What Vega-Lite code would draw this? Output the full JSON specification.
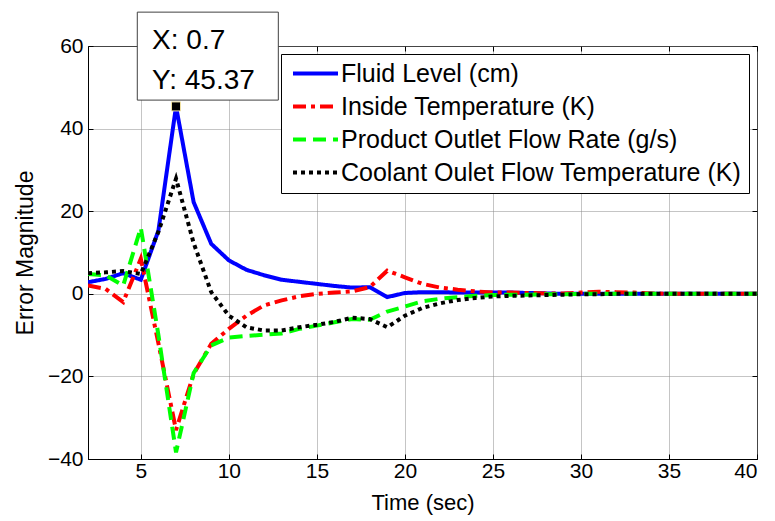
{
  "$schema": "https://vega.github.io/schema/vega-lite/v6.json",
  "width": 669,
  "height": 413,
  "autosize": {"type": "none"},
  "padding": {"left": 88, "top": 46, "right": 18, "bottom": 62},
  "background": "white",
  "config": {
    "view": {"stroke": "black", "strokeWidth": 1},
    "font": "Liberation Sans",
    "axis": {
      "labelFont": "Liberation Sans",
      "labelFontSize": 21,
      "labelColor": "black",
      "titleFont": "Liberation Sans",
      "titleFontSize": 22,
      "titleFontWeight": "normal",
      "titleColor": "black",
      "domainColor": "black",
      "tickColor": "black",
      "tickSize": -5,
      "gridColor": "#8a8a8a",
      "gridDash": [1, 1],
      "gridWidth": 1
    },
    "legend": {
      "strokeColor": "black", "fillColor": "white", "padding": 7,
      "labelFont": "Liberation Sans", "labelFontSize": 25, "labelColor": "black",
      "labelOffset": 13, "labelLimit": 0, "rowPadding": 7,
      "symbolType": "M-2.5,0H2.5", "symbolSize": 324, "symbolStrokeWidth": 4, "symbolOffset": 15
    }
  },
  "datasets": {
    "series": [
      {"t": 2, "s": "Fluid Level (cm)", "v": 2.8},
      {"t": 3, "s": "Fluid Level (cm)", "v": 3.6},
      {"t": 4, "s": "Fluid Level (cm)", "v": 5.0},
      {"t": 5, "s": "Fluid Level (cm)", "v": 3.4},
      {"t": 6, "s": "Fluid Level (cm)", "v": 15.3},
      {"t": 7, "s": "Fluid Level (cm)", "v": 45.37},
      {"t": 8, "s": "Fluid Level (cm)", "v": 22.2},
      {"t": 9, "s": "Fluid Level (cm)", "v": 12.1},
      {"t": 10, "s": "Fluid Level (cm)", "v": 8.1},
      {"t": 11, "s": "Fluid Level (cm)", "v": 5.8},
      {"t": 12, "s": "Fluid Level (cm)", "v": 4.5},
      {"t": 13, "s": "Fluid Level (cm)", "v": 3.4},
      {"t": 14, "s": "Fluid Level (cm)", "v": 2.9},
      {"t": 15, "s": "Fluid Level (cm)", "v": 2.4},
      {"t": 16, "s": "Fluid Level (cm)", "v": 1.9},
      {"t": 17, "s": "Fluid Level (cm)", "v": 1.5},
      {"t": 18, "s": "Fluid Level (cm)", "v": 1.6},
      {"t": 19, "s": "Fluid Level (cm)", "v": -0.8},
      {"t": 20, "s": "Fluid Level (cm)", "v": 0.2},
      {"t": 21, "s": "Fluid Level (cm)", "v": 0.4},
      {"t": 22, "s": "Fluid Level (cm)", "v": 0.4},
      {"t": 23, "s": "Fluid Level (cm)", "v": 0.3},
      {"t": 24, "s": "Fluid Level (cm)", "v": 0.3},
      {"t": 25, "s": "Fluid Level (cm)", "v": 0.3},
      {"t": 26, "s": "Fluid Level (cm)", "v": 0.3},
      {"t": 27, "s": "Fluid Level (cm)", "v": 0.2},
      {"t": 28, "s": "Fluid Level (cm)", "v": 0.1},
      {"t": 29, "s": "Fluid Level (cm)", "v": 0},
      {"t": 30, "s": "Fluid Level (cm)", "v": 0},
      {"t": 31, "s": "Fluid Level (cm)", "v": 0},
      {"t": 32, "s": "Fluid Level (cm)", "v": 0},
      {"t": 33, "s": "Fluid Level (cm)", "v": 0},
      {"t": 34, "s": "Fluid Level (cm)", "v": 0},
      {"t": 35, "s": "Fluid Level (cm)", "v": 0},
      {"t": 36, "s": "Fluid Level (cm)", "v": 0},
      {"t": 37, "s": "Fluid Level (cm)", "v": 0},
      {"t": 38, "s": "Fluid Level (cm)", "v": 0},
      {"t": 39, "s": "Fluid Level (cm)", "v": 0},
      {"t": 40, "s": "Fluid Level (cm)", "v": 0},

      {"t": 2, "s": "Inside Temperature (K)", "v": 2.0},
      {"t": 3, "s": "Inside Temperature (K)", "v": 1.2},
      {"t": 4, "s": "Inside Temperature (K)", "v": -2.0},
      {"t": 5, "s": "Inside Temperature (K)", "v": 8.5},
      {"t": 6, "s": "Inside Temperature (K)", "v": -12},
      {"t": 7, "s": "Inside Temperature (K)", "v": -33},
      {"t": 8, "s": "Inside Temperature (K)", "v": -19.4},
      {"t": 9, "s": "Inside Temperature (K)", "v": -12.1},
      {"t": 10, "s": "Inside Temperature (K)", "v": -8.5},
      {"t": 11, "s": "Inside Temperature (K)", "v": -5.3},
      {"t": 12, "s": "Inside Temperature (K)", "v": -2.8},
      {"t": 13, "s": "Inside Temperature (K)", "v": -1.6},
      {"t": 14, "s": "Inside Temperature (K)", "v": -0.6},
      {"t": 15, "s": "Inside Temperature (K)", "v": 0},
      {"t": 16, "s": "Inside Temperature (K)", "v": 0.3},
      {"t": 17, "s": "Inside Temperature (K)", "v": 0.6},
      {"t": 18, "s": "Inside Temperature (K)", "v": 1.6},
      {"t": 19, "s": "Inside Temperature (K)", "v": 5.6},
      {"t": 20, "s": "Inside Temperature (K)", "v": 4.0},
      {"t": 21, "s": "Inside Temperature (K)", "v": 2.4},
      {"t": 22, "s": "Inside Temperature (K)", "v": 1.5},
      {"t": 23, "s": "Inside Temperature (K)", "v": 1.0},
      {"t": 24, "s": "Inside Temperature (K)", "v": 0.6},
      {"t": 25, "s": "Inside Temperature (K)", "v": 0.3},
      {"t": 26, "s": "Inside Temperature (K)", "v": 0.3},
      {"t": 27, "s": "Inside Temperature (K)", "v": 0.2},
      {"t": 28, "s": "Inside Temperature (K)", "v": 0.1},
      {"t": 29, "s": "Inside Temperature (K)", "v": 0.1},
      {"t": 30, "s": "Inside Temperature (K)", "v": 0.3},
      {"t": 31, "s": "Inside Temperature (K)", "v": 0.5},
      {"t": 32, "s": "Inside Temperature (K)", "v": 0.4},
      {"t": 33, "s": "Inside Temperature (K)", "v": 0.3},
      {"t": 34, "s": "Inside Temperature (K)", "v": 0.1},
      {"t": 35, "s": "Inside Temperature (K)", "v": 0},
      {"t": 36, "s": "Inside Temperature (K)", "v": 0},
      {"t": 37, "s": "Inside Temperature (K)", "v": 0},
      {"t": 38, "s": "Inside Temperature (K)", "v": 0},
      {"t": 39, "s": "Inside Temperature (K)", "v": 0},
      {"t": 40, "s": "Inside Temperature (K)", "v": 0},

      {"t": 2, "s": "Product Outlet Flow Rate (g/s)", "v": 4.8},
      {"t": 3, "s": "Product Outlet Flow Rate (g/s)", "v": 4.5},
      {"t": 4, "s": "Product Outlet Flow Rate (g/s)", "v": 2.0},
      {"t": 5, "s": "Product Outlet Flow Rate (g/s)", "v": 16},
      {"t": 6, "s": "Product Outlet Flow Rate (g/s)", "v": -10},
      {"t": 7, "s": "Product Outlet Flow Rate (g/s)", "v": -38.4},
      {"t": 8, "s": "Product Outlet Flow Rate (g/s)", "v": -19.2},
      {"t": 9, "s": "Product Outlet Flow Rate (g/s)", "v": -12.5},
      {"t": 10, "s": "Product Outlet Flow Rate (g/s)", "v": -10.6},
      {"t": 11, "s": "Product Outlet Flow Rate (g/s)", "v": -10.2},
      {"t": 12, "s": "Product Outlet Flow Rate (g/s)", "v": -9.9},
      {"t": 13, "s": "Product Outlet Flow Rate (g/s)", "v": -9.6},
      {"t": 14, "s": "Product Outlet Flow Rate (g/s)", "v": -8.5},
      {"t": 15, "s": "Product Outlet Flow Rate (g/s)", "v": -7.7},
      {"t": 16, "s": "Product Outlet Flow Rate (g/s)", "v": -6.9},
      {"t": 17, "s": "Product Outlet Flow Rate (g/s)", "v": -6.1},
      {"t": 18, "s": "Product Outlet Flow Rate (g/s)", "v": -6.3},
      {"t": 19, "s": "Product Outlet Flow Rate (g/s)", "v": -4.3},
      {"t": 20, "s": "Product Outlet Flow Rate (g/s)", "v": -3.1},
      {"t": 21, "s": "Product Outlet Flow Rate (g/s)", "v": -1.8},
      {"t": 22, "s": "Product Outlet Flow Rate (g/s)", "v": -1.2},
      {"t": 23, "s": "Product Outlet Flow Rate (g/s)", "v": -0.8},
      {"t": 24, "s": "Product Outlet Flow Rate (g/s)", "v": -0.5},
      {"t": 25, "s": "Product Outlet Flow Rate (g/s)", "v": -0.3},
      {"t": 26, "s": "Product Outlet Flow Rate (g/s)", "v": -0.2},
      {"t": 27, "s": "Product Outlet Flow Rate (g/s)", "v": -0.2},
      {"t": 28, "s": "Product Outlet Flow Rate (g/s)", "v": -0.1},
      {"t": 29, "s": "Product Outlet Flow Rate (g/s)", "v": -0.1},
      {"t": 30, "s": "Product Outlet Flow Rate (g/s)", "v": 0},
      {"t": 31, "s": "Product Outlet Flow Rate (g/s)", "v": 0},
      {"t": 32, "s": "Product Outlet Flow Rate (g/s)", "v": 0},
      {"t": 33, "s": "Product Outlet Flow Rate (g/s)", "v": 0},
      {"t": 34, "s": "Product Outlet Flow Rate (g/s)", "v": 0},
      {"t": 35, "s": "Product Outlet Flow Rate (g/s)", "v": 0},
      {"t": 36, "s": "Product Outlet Flow Rate (g/s)", "v": 0},
      {"t": 37, "s": "Product Outlet Flow Rate (g/s)", "v": 0},
      {"t": 38, "s": "Product Outlet Flow Rate (g/s)", "v": 0},
      {"t": 39, "s": "Product Outlet Flow Rate (g/s)", "v": 0},
      {"t": 40, "s": "Product Outlet Flow Rate (g/s)", "v": 0},

      {"t": 2, "s": "Coolant Oulet Flow Temperature (K)", "v": 5.0},
      {"t": 3, "s": "Coolant Oulet Flow Temperature (K)", "v": 5.2},
      {"t": 4, "s": "Coolant Oulet Flow Temperature (K)", "v": 5.5},
      {"t": 5, "s": "Coolant Oulet Flow Temperature (K)", "v": 4.8},
      {"t": 6, "s": "Coolant Oulet Flow Temperature (K)", "v": 15},
      {"t": 7, "s": "Coolant Oulet Flow Temperature (K)", "v": 27.9},
      {"t": 8, "s": "Coolant Oulet Flow Temperature (K)", "v": 12.3},
      {"t": 9, "s": "Coolant Oulet Flow Temperature (K)", "v": 0.4},
      {"t": 10, "s": "Coolant Oulet Flow Temperature (K)", "v": -5.3},
      {"t": 11, "s": "Coolant Oulet Flow Temperature (K)", "v": -8.1},
      {"t": 12, "s": "Coolant Oulet Flow Temperature (K)", "v": -8.9},
      {"t": 13, "s": "Coolant Oulet Flow Temperature (K)", "v": -8.9},
      {"t": 14, "s": "Coolant Oulet Flow Temperature (K)", "v": -8.1},
      {"t": 15, "s": "Coolant Oulet Flow Temperature (K)", "v": -7.5},
      {"t": 16, "s": "Coolant Oulet Flow Temperature (K)", "v": -6.8},
      {"t": 17, "s": "Coolant Oulet Flow Temperature (K)", "v": -5.8},
      {"t": 18, "s": "Coolant Oulet Flow Temperature (K)", "v": -6.1},
      {"t": 19, "s": "Coolant Oulet Flow Temperature (K)", "v": -8.1},
      {"t": 20, "s": "Coolant Oulet Flow Temperature (K)", "v": -5.3},
      {"t": 21, "s": "Coolant Oulet Flow Temperature (K)", "v": -3.4},
      {"t": 22, "s": "Coolant Oulet Flow Temperature (K)", "v": -2.3},
      {"t": 23, "s": "Coolant Oulet Flow Temperature (K)", "v": -1.5},
      {"t": 24, "s": "Coolant Oulet Flow Temperature (K)", "v": -1.0},
      {"t": 25, "s": "Coolant Oulet Flow Temperature (K)", "v": -0.65},
      {"t": 26, "s": "Coolant Oulet Flow Temperature (K)", "v": -0.5},
      {"t": 27, "s": "Coolant Oulet Flow Temperature (K)", "v": -0.4},
      {"t": 28, "s": "Coolant Oulet Flow Temperature (K)", "v": -0.3},
      {"t": 29, "s": "Coolant Oulet Flow Temperature (K)", "v": -0.2},
      {"t": 30, "s": "Coolant Oulet Flow Temperature (K)", "v": -0.1},
      {"t": 31, "s": "Coolant Oulet Flow Temperature (K)", "v": -0.1},
      {"t": 32, "s": "Coolant Oulet Flow Temperature (K)", "v": 0},
      {"t": 33, "s": "Coolant Oulet Flow Temperature (K)", "v": 0},
      {"t": 34, "s": "Coolant Oulet Flow Temperature (K)", "v": 0},
      {"t": 35, "s": "Coolant Oulet Flow Temperature (K)", "v": 0},
      {"t": 36, "s": "Coolant Oulet Flow Temperature (K)", "v": 0},
      {"t": 37, "s": "Coolant Oulet Flow Temperature (K)", "v": 0},
      {"t": 38, "s": "Coolant Oulet Flow Temperature (K)", "v": 0},
      {"t": 39, "s": "Coolant Oulet Flow Temperature (K)", "v": 0},
      {"t": 40, "s": "Coolant Oulet Flow Temperature (K)", "v": 0}
    ],
    "tip": [
      {"t": 7, "v": 45.37, "line1": "X: 0.7", "line2": "Y: 45.37"}
    ]
  },
  "resolve": {"axis": {"x": "independent", "y": "independent"}},
  "layer": [
    {
      "data": {"name": "series"},
      "mark": {"type": "line", "strokeWidth": 4, "strokeCap": "butt", "strokeJoin": "miter", "clip": true},
      "encoding": {
        "x": {
          "field": "t", "type": "quantitative",
          "scale": {"domain": [2, 40], "nice": false, "zero": false},
          "axis": {"orient": "bottom", "values": [5, 10, 15, 20, 25, 30, 35, 40], "title": "Time (sec)", "labelPadding": 6, "titlePadding": 11, "grid": true}
        },
        "y": {
          "field": "v", "type": "quantitative",
          "scale": {"domain": [-40, 60], "nice": false, "zero": false},
          "axis": {"orient": "left", "values": [-40, -20, 0, 20, 40, 60], "title": "Error Magnitude", "titleFontSize": 23, "labelPadding": 10, "titlePadding": 10, "grid": true}
        },
        "color": {
          "field": "s", "type": "nominal",
          "scale": {
            "domain": ["Fluid Level (cm)", "Inside Temperature (K)", "Product Outlet Flow Rate (g/s)", "Coolant Oulet Flow Temperature (K)"],
            "range": ["#0000ff", "#ff0000", "#00ff00", "#000000"]
          },
          "legend": {"title": null, "orient": "none", "legendX": 193, "legendY": 8}
        },
        "strokeDash": {
          "field": "s", "type": "nominal",
          "scale": {
            "domain": ["Fluid Level (cm)", "Inside Temperature (K)", "Product Outlet Flow Rate (g/s)", "Coolant Oulet Flow Temperature (K)"],
            "range": [[1, 0], [13, 5, 4, 5], [13, 7], [4, 4]]
          },
          "legend": {"title": null, "orient": "none", "legendX": 193, "legendY": 8}
        }
      }
    },
    {
      "data": {"name": "tip"},
      "mark": {"type": "square", "size": 81, "filled": true, "color": "black", "stroke": "#f2e3a6", "strokeWidth": 1, "opacity": 1},
      "encoding": {
        "x": {"field": "t", "type": "quantitative", "axis": {"orient": "top", "values": [5, 10, 15, 20, 25, 30, 35, 40], "labels": false, "title": null, "grid": false, "domain": false}},
        "y": {"field": "v", "type": "quantitative", "axis": {"orient": "right", "values": [-40, -20, 0, 20, 40, 60], "labels": false, "title": null, "grid": false, "domain": false}}
      }
    },
    {
      "data": {"name": "tip"},
      "mark": {"type": "rect", "fill": "white", "stroke": "#404040", "strokeWidth": 1, "clip": false},
      "encoding": {
        "x": {"datum": 4.8, "type": "quantitative", "axis": null},
        "x2": {"datum": 12.81},
        "y": {"datum": 68.2, "type": "quantitative", "axis": null},
        "y2": {"datum": 46.9}
      }
    },
    {
      "data": {"name": "tip"},
      "mark": {"type": "text", "align": "left", "baseline": "alphabetic", "font": "Liberation Sans", "fontSize": 28, "color": "black"},
      "encoding": {
        "x": {"datum": 5.64, "type": "quantitative", "axis": null},
        "y": {"datum": 59.2, "type": "quantitative", "axis": null},
        "text": {"field": "line1"}
      }
    },
    {
      "data": {"name": "tip"},
      "mark": {"type": "text", "align": "left", "baseline": "alphabetic", "font": "Liberation Sans", "fontSize": 28, "color": "black"},
      "encoding": {
        "x": {"datum": 5.64, "type": "quantitative", "axis": null},
        "y": {"datum": 49.5, "type": "quantitative", "axis": null},
        "text": {"field": "line2"}
      }
    }
  ]
}
